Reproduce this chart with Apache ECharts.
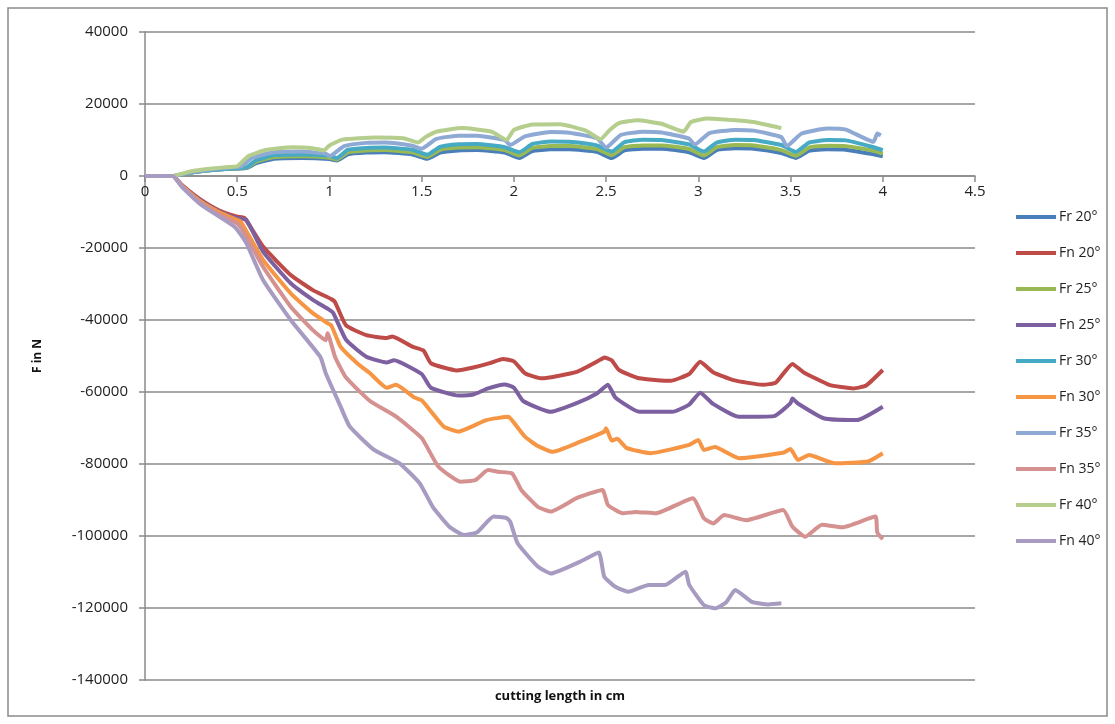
<!DOCTYPE html>
<html>
<head>
<meta charset="utf-8">
<script src="https://cdn.jsdelivr.net/npm/echarts@6/dist/echarts.min.js"></script>
<style>
  html, body { margin: 0; padding: 0; background: #fff; }
  #chart { width: 1115px; height: 724px; }
</style>
</head>
<body>
<div id="chart"></div>
<script>
var seriesNames = ['Fr 20°', 'Fn 20°', 'Fr 25°', 'Fn 25°', 'Fr 30°', 'Fn 30°', 'Fr 35°', 'Fn 35°', 'Fr 40°', 'Fn 40°'];
var colors = ['#4A7EBB', '#BE4B48', '#98B954', '#7D60A0', '#46AAC5', '#F69544', '#8EA9D4', '#D4918F', '#B5CE8D', '#A79BC2'];

var yTicks = { min: -140000, max: 40000, step: 20000 };
var xTicks = { min: 0, max: 4.5, step: 0.5 };

// radial force, shared x for 20/25/30
var frX = [0, 0.15, 0.25, 0.35, 0.45, 0.55, 0.6, 0.7, 0.85, 1.0, 1.04, 1.1, 1.2, 1.3, 1.45, 1.53, 1.6, 1.7, 1.8, 1.95, 2.03, 2.1, 2.2, 2.3, 2.45, 2.53, 2.6, 2.7, 2.8, 2.95, 3.03, 3.1, 3.2, 3.3, 3.45, 3.53, 3.6, 3.7, 3.8, 3.95, 4.0];
var fr20 = [0, 0, 1000, 1600, 2000, 2200, 3500, 4800, 5000, 4700, 4300, 6000, 6500, 6600, 6000, 4800, 6500, 7100, 7200, 6500, 5000, 6900, 7400, 7400, 6700, 5000, 7100, 7600, 7600, 6600, 5000, 7200, 7700, 7600, 6400, 5000, 7000, 7400, 7300, 6000, 5500];
var fr25 = [0, 0, 1000, 1600, 2000, 2300, 3900, 5300, 5500, 5100, 4600, 6600, 7100, 7200, 6600, 5300, 7300, 7900, 8000, 7200, 5700, 7800, 8300, 8300, 7500, 5800, 8000, 8500, 8500, 7500, 5700, 8000, 8600, 8500, 7200, 5600, 7900, 8400, 8300, 7000, 6200];
var fr30 = [0, 0, 1000, 1600, 2000, 2400, 4300, 5800, 6000, 5600, 5000, 7300, 7800, 7900, 7300, 5900, 8100, 8800, 8900, 8000, 6600, 8900, 9600, 9500, 8500, 6800, 9400, 10100, 10000, 8800, 6800, 9300, 10100, 10000, 8600, 6700, 9300, 10000, 9900, 8000, 7200];

var fr35X = [0, 0.15, 0.25, 0.35, 0.45, 0.52, 0.58, 0.7, 0.85, 0.98, 1.0, 1.08, 1.2, 1.3, 1.45, 1.5, 1.58, 1.7, 1.8, 1.95, 1.98, 2.06, 2.2, 2.3, 2.45, 2.5, 2.58, 2.7, 2.8, 2.95, 2.98, 3.06, 3.2, 3.3, 3.45, 3.48, 3.56, 3.7, 3.8, 3.95, 3.97, 3.99];
var fr35 = [0, 0, 1100, 1800, 2300, 2600, 5000, 6600, 6800, 6200, 5500, 8300, 9200, 9300, 8400, 7600, 10300, 11200, 11200, 10000, 8600, 11000, 12200, 12000, 10500, 7900, 11400, 12300, 12100, 10400, 8700, 11900, 12800, 12600, 10800, 8300, 11800, 13200, 12900, 9500, 11800, 11300];

var fr40X = [0, 0.15, 0.25, 0.35, 0.45, 0.5, 0.56, 0.66, 0.8, 0.9, 0.97, 1.0, 1.07, 1.25, 1.4, 1.48, 1.52, 1.58, 1.72, 1.88, 1.96, 2.0, 2.1, 2.25, 2.39, 2.47, 2.52, 2.57, 2.67, 2.8, 2.92, 2.96, 3.05, 3.2, 3.3, 3.45];
var fr40 = [0, 0, 1300, 2000, 2500, 2700, 5500, 7300, 8000, 7800, 7100, 8500, 10100, 10700, 10500, 9300, 10800, 12300, 13300, 12300, 10000, 12800, 14300, 14400, 12600, 10200, 12800, 14700, 15500, 14500, 12300, 15000, 16000, 15500, 15000, 13300];

// normal force
var fn20X = [0, 0.15, 0.2, 0.3, 0.4, 0.5, 0.54, 0.64, 0.79, 0.91, 1.01, 1.03, 1.09, 1.2, 1.31, 1.34, 1.45, 1.51, 1.55, 1.69, 1.78, 1.87, 1.94, 2.0, 2.06, 2.15, 2.34, 2.47, 2.49, 2.53, 2.57, 2.68, 2.85, 2.95, 3.01, 3.08, 3.19, 3.35, 3.42, 3.51, 3.57, 3.71, 3.84, 3.91, 4.0];
var fn20 = [0, 0, -2500, -6500, -9500, -11300, -11700, -19600, -27500, -31700, -34200, -35000, -41500, -44200, -45000, -44600, -47400, -48500, -52000, -54000, -53200, -52000, -50800, -51500, -54800, -56200, -54400, -51000, -50400, -51200, -53900, -56200, -56900, -55000, -51600, -54500, -56700, -58000, -57400, -52200, -54500, -58000, -59000, -58200, -53900];

var fn25X = [0, 0.15, 0.2, 0.3, 0.4, 0.5, 0.55, 0.64, 0.79, 0.91, 1.0, 1.02, 1.09, 1.2, 1.31, 1.35, 1.5, 1.55, 1.7, 1.78, 1.86, 1.95, 2.0, 2.05, 2.2, 2.34, 2.45, 2.51, 2.55, 2.68, 2.86, 2.95, 3.01, 3.08, 3.22, 3.41, 3.5, 3.51, 3.54, 3.68, 3.86, 4.0];
var fn25 = [0, 0, -2600, -6800, -9800, -11700, -12200, -21000, -29800, -34400, -37200, -38000, -45500, -50200, -51800, -51200, -55000, -58800, -61000, -60700, -59000, -57900, -58800, -62500, -65500, -63100, -60400, -58000, -61500, -65500, -65500, -63500, -60200, -63300, -66900, -66700, -63100, -61800, -63200, -67300, -67800, -64100];

var fn30X = [0, 0.15, 0.2, 0.3, 0.4, 0.5, 0.52, 0.64, 0.79, 0.91, 0.99, 1.01, 1.06, 1.15, 1.22, 1.31, 1.36, 1.46, 1.5, 1.56, 1.62, 1.7, 1.85, 1.97, 2.0, 2.06, 2.13, 2.21, 2.36, 2.49, 2.5, 2.53, 2.56, 2.61, 2.74, 2.95, 3.0, 3.03, 3.09, 3.22, 3.46, 3.5, 3.54, 3.6, 3.74, 3.92, 4.0];
var fn30 = [0, 0, -2700, -7000, -10000, -12200, -12700, -23300, -32600, -38100, -40900, -41500, -47400, -52000, -54800, -58800, -58000, -61500, -62300, -66000, -69600, -71000, -67800, -66900, -68500, -72400, -75000, -76600, -73800, -71000, -70100, -73500, -73000, -75500, -77000, -74700, -73300, -76100, -75300, -78400, -76900, -75800, -78900, -77500, -79800, -79300, -77000];

var fn35X = [0, 0.15, 0.2, 0.3, 0.4, 0.51, 0.64, 0.79, 0.91, 0.98, 0.99, 1.03, 1.09, 1.22, 1.36, 1.5, 1.59, 1.71, 1.79, 1.86, 1.92, 1.99, 2.04, 2.13, 2.2, 2.34, 2.48, 2.51, 2.59, 2.66, 2.77, 2.97, 3.03, 3.08, 3.14, 3.26, 3.46, 3.51, 3.58, 3.67, 3.78, 3.96, 3.97, 4.0];
var fn35 = [0, 0, -2900, -7400, -10600, -13600, -25200, -36300, -42800, -45600, -43700, -50200, -56000, -62500, -66800, -72800, -80700, -84900, -84500, -81700, -82200, -82600, -87200, -91900, -93200, -89500, -87200, -91400, -93700, -93300, -93700, -89500, -95100, -96500, -94200, -95600, -92800, -97400, -100200, -96900, -97600, -94600, -99000, -100900];

var fn40X = [0, 0.15, 0.2, 0.3, 0.4, 0.49, 0.55, 0.64, 0.79, 0.95, 0.98, 1.06, 1.11, 1.24, 1.38, 1.49, 1.56, 1.65, 1.73, 1.8, 1.89, 1.96, 1.98, 2.02, 2.13, 2.2, 2.36, 2.46, 2.49, 2.55, 2.62, 2.73, 2.82, 2.93, 2.95, 3.03, 3.09, 3.15, 3.2, 3.29, 3.38, 3.45];
var fn40 = [0, 0, -3000, -7800, -11200, -14300, -18700, -28900, -40000, -50200, -54800, -64000, -69600, -76000, -79800, -85400, -91900, -97400, -99700, -99000, -94600, -95000, -96000, -102000, -108500, -110400, -107100, -104600, -111300, -114100, -115500, -113600, -113600, -109900, -113500, -119200, -120100, -118500, -115000, -118300, -119000, -118700];

function pairs(xs, ys) {
    return xs.map(function(x, i) { return [x, ys[i]]; });
}

var seriesData = [
    pairs(frX, fr20), pairs(fn20X, fn20),
    pairs(frX, fr25), pairs(fn25X, fn25),
    pairs(frX, fr30), pairs(fn30X, fn30),
    pairs(fr35X, fr35), pairs(fn35X, fn35),
    pairs(fr40X, fr40), pairs(fn40X, fn40)
];

var font = "'Open Sans', 'Liberation Sans', sans-serif";
var axisGray = '#8a8a8a';

var gridTop = 32, gridHeight = 648;
// the category axis sits on the y = 0 line, as in the original
var zeroOffset = -gridHeight * (0 - yTicks.min) / (yTicks.max - yTicks.min);

var myChart = echarts.init(document.getElementById('chart'));
myChart.setOption({
    animation: false,
    color: colors,
    grid: {
        left: 145,
        top: gridTop,
        width: 830,
        height: gridHeight
    },
    legend: {
        orient: 'vertical',
        left: 1011,
        top: 204,
        icon: 'rect',
        itemWidth: 40,
        itemHeight: 4,
        itemGap: 20,
        textStyle: {
            fontFamily: font,
            fontSize: 14,
            color: '#222',
            lineHeight: 16,
            padding: [0, 0, 0, -2]
        },
        data: seriesNames
    },
    xAxis: {
        type: 'value',
        min: xTicks.min,
        max: xTicks.max,
        interval: xTicks.step,
        offset: zeroOffset,
        axisLine: {
            onZero: false,
            lineStyle: { color: axisGray, width: 1.5 }
        },
        axisTick: {
            show: true,
            length: 6,
            lineStyle: { color: axisGray, width: 1.5 }
        },
        axisLabel: {
            margin: 8,
            fontFamily: font,
            fontSize: 15,
            color: '#222'
        },
        splitLine: { show: false }
    },
    yAxis: {
        type: 'value',
        min: yTicks.min,
        max: yTicks.max,
        interval: yTicks.step,
        name: 'F in N',
        nameLocation: 'middle',
        nameGap: 101,
        nameTextStyle: {
            fontFamily: font,
            fontSize: 12,
            fontWeight: 'bold',
            color: '#111'
        },
        axisLine: {
            show: true,
            onZero: false,
            lineStyle: { color: axisGray, width: 1.5 }
        },
        axisTick: {
            show: true,
            length: 6,
            lineStyle: { color: axisGray, width: 1.5 }
        },
        axisLabel: {
            margin: 17,
            fontFamily: font,
            fontSize: 15,
            color: '#222',
            formatter: function(v) { return String(v); }
        },
        splitLine: {
            show: true,
            lineStyle: { color: axisGray, width: 1.5 }
        }
    },
    graphic: [{
        type: 'rect',
        shape: { x: 8, y: 8, width: 1099, height: 708 },
        style: { fill: null, stroke: '#8a8a8a', lineWidth: 1.5 },
        silent: true
    }, {
        type: 'text',
        x: 560,
        y: 696,
        style: {
            text: 'cutting length in cm',
            fontFamily: font,
            fontSize: 13,
            fontWeight: 'bold',
            fill: '#111',
            align: 'center',
            verticalAlign: 'middle'
        }
    }],
    series: seriesNames.map(function(name, i) {
        return {
            name: name,
            type: 'line',
            showSymbol: false,
            symbol: 'none',
            smooth: 0.15,
            lineStyle: { width: 4 },
            data: seriesData[i]
        };
    })
});
</script>
</body>
</html>
